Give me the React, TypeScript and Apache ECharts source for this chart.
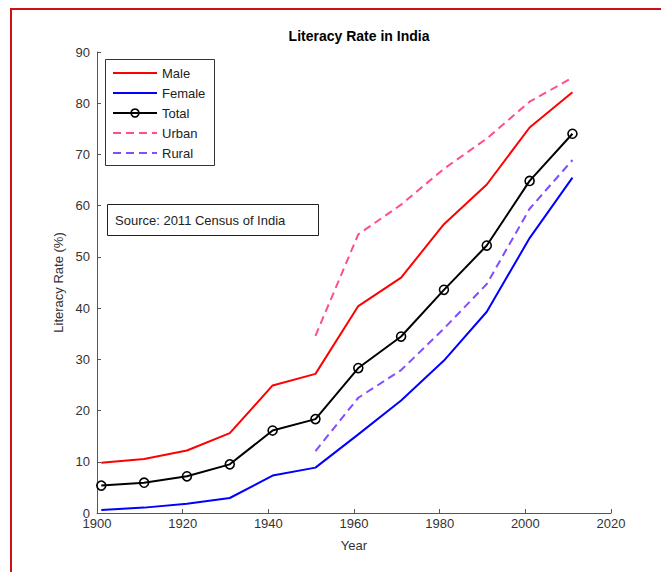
import React, { useEffect, useRef } from "react";
import * as echarts from "echarts";

const years = [1901, 1911, 1921, 1931, 1941, 1951, 1961, 1971, 1981, 1991, 2001, 2011];
const male = [9.83, 10.56, 12.21, 15.59, 24.9, 27.16, 40.4, 45.96, 56.38, 64.13, 75.26, 82.14];
const female = [0.6, 1.05, 1.81, 2.93, 7.3, 8.86, 15.35, 21.97, 29.76, 39.29, 53.67, 65.46];
const total = [5.35, 5.92, 7.16, 9.5, 16.1, 18.33, 28.3, 34.45, 43.57, 52.21, 64.83, 74.04];
const urbanYears = [1951, 1961, 1971, 1981, 1991, 2001, 2011];
const urban = [34.59, 54.4, 60.2, 67.2, 73.1, 80.3, 84.98];
const rural = [12.1, 22.5, 27.9, 36.0, 44.7, 59.4, 68.91];

const seriesNames = ["Male", "Female", "Total", "Urban", "Rural"];
const seriesColors = ["#ff0000", "#0000ff", "#000000", "#ff4d8f", "#804dff"];
const seriesDashed = [false, false, false, true, true];

const pair = (xs: number[], ys: number[]) => xs.map((x, i) => [x, ys[i]]);

const FONT = "Liberation Sans, Arial, sans-serif";
const DASH = [8, 5];

export default function App() {
  const ref = useRef<HTMLDivElement>(null);
  useEffect(() => {
    if (!ref.current) return;
    const chart = echarts.init(ref.current, null, { renderer: "svg" });
    const axisLine = { show: true, lineStyle: { color: "#555", width: 1 } };
    const tick = { show: true, inside: true, length: 4, lineStyle: { color: "#555" } };
    const lbl = { fontFamily: FONT, fontSize: 13, color: "#333" };

    const legendItems: any[] = [];
    seriesNames.forEach((n, i) => {
      const y = 73 + i * 20;
      legendItems.push({
        type: "line",
        shape: { x1: 113, y1: y, x2: 157, y2: y },
        style: {
          stroke: seriesColors[i],
          lineWidth: 2,
          lineDash: seriesDashed[i] ? DASH : null,
        },
      });
      if (n === "Total") {
        legendItems.push({
          type: "circle",
          shape: { cx: 135, cy: y, r: 4 },
          style: { fill: "none", stroke: "#000", lineWidth: 1.6 },
        });
      }
      legendItems.push({
        type: "text",
        x: 162,
        y: y,
        style: { text: n, fontFamily: FONT, fontSize: 13, fill: "#222", verticalAlign: "middle" },
      });
    });

    const mk = (name: string, data: number[][], i: number, extra: any = {}) => ({
      name,
      type: "line",
      data,
      symbol: "none",
      lineStyle: { color: seriesColors[i], width: 2, type: seriesDashed[i] ? DASH : "solid" },
      itemStyle: { color: seriesColors[i] },
      ...extra,
    });

    chart.setOption({
      animation: false,
      backgroundColor: "#fff",
      title: {
        text: "Literacy Rate in India",
        left: 354,
        textAlign: "center",
        top: 24,
        textStyle: { fontFamily: FONT, fontSize: 14, fontWeight: "bold", color: "#000" },
      },
      grid: { left: 97, top: 52, right: 50, bottom: 59 },
      xAxis: {
        type: "value",
        min: 1900,
        max: 2020,
        interval: 20,
        name: "Year",
        nameLocation: "middle",
        nameGap: 26,
        nameTextStyle: lbl,
        axisLine,
        axisTick: tick,
        axisLabel: { ...lbl, margin: 4, formatter: (v: number) => String(v) },
        splitLine: { show: false },
      },
      yAxis: {
        type: "value",
        min: 0,
        max: 90,
        interval: 10,
        name: "Literacy Rate (%)",
        nameLocation: "middle",
        nameGap: 26,
        nameTextStyle: lbl,
        axisLine,
        axisTick: tick,
        axisLabel: { ...lbl, margin: 7 },
        splitLine: { show: false },
      },
      series: [
        mk("Male", pair(years, male), 0),
        mk("Female", pair(years, female), 1),
        mk("Total", pair(years, total), 2, {
          symbol: "circle",
          symbolSize: 9,
          itemStyle: { color: "transparent", borderColor: "#000", borderWidth: 1.6 },
        }),
        mk("Urban", pair(urbanYears, urban), 3),
        mk("Rural", pair(urbanYears, rural), 4),
      ],
      graphic: [
        {
          type: "line",
          shape: { x1: 11, y1: 9, x2: 11, y2: 572 },
          style: { stroke: "#d01010", lineWidth: 2 },
        },
        {
          type: "line",
          shape: { x1: 10, y1: 9, x2: 661, y2: 9 },
          style: { stroke: "#d01010", lineWidth: 2 },
        },
        {
          type: "rect",
          shape: { x: 105.5, y: 59.5, width: 109, height: 106 },
          style: { fill: "#fff", stroke: "#333", lineWidth: 1 },
        },
        ...legendItems,
        {
          type: "rect",
          shape: { x: 107.5, y: 204.5, width: 211, height: 31 },
          style: { fill: "#fff", stroke: "#222", lineWidth: 1 },
        },
        {
          type: "text",
          x: 115,
          y: 220,
          style: {
            text: "Source: 2011 Census of India",
            fontFamily: FONT,
            fontSize: 13,
            fill: "#222",
            verticalAlign: "middle",
          },
        },
      ],
    });
    return () => chart.dispose();
  }, []);
  return (
    <div
      ref={ref}
      style={{ position: "fixed", left: 0, top: 0, width: 661, height: 572 }}
    />
  );
}
